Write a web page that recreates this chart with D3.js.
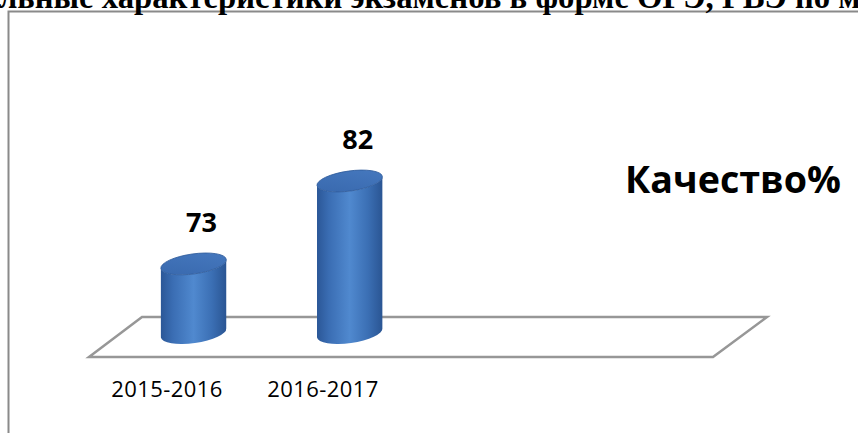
<!DOCTYPE html>
<html><head><meta charset="utf-8">
<script src="https://cdn.jsdelivr.net/npm/d3@7"></script>
<style>html,body{margin:0;padding:0;background:#fff;overflow:hidden}</style>
</head><body>
<svg id="chart" width="858" height="433"></svg>
<script>
const titleText = "льные характеристики экзаменов в форме ОГЭ, ГВЭ  по м";
const seriesName = "Качество%";
const categories = ["2015-2016", "2016-2017", "", ""];
const values = [73, 82, null, null];

(function () {
const W = 858, H = 433;
const svg = d3.select("#chart");

const defs = svg.append("defs");
const gBody = defs.append("linearGradient").attr("id","gBody").attr("x1","0").attr("x2","1").attr("y1","0").attr("y2","0");
[["0%","#2b5797"],["18%","#3a6db3"],["50%","#5089cf"],["78%","#3b6fb4"],["100%","#2a5593"]]
  .forEach(s=>gBody.append("stop").attr("offset",s[0]).attr("stop-color",s[1]));
const gTop = defs.append("linearGradient").attr("id","gTop").attr("x1","0").attr("x2","1").attr("y1","1").attr("y2","0");
[["0%","#3868ad"],["100%","#4679bf"]].forEach(s=>gTop.append("stop").attr("offset",s[0]).attr("stop-color",s[1]));

// frame
svg.append("path").attr("d", d3.line()([[8.5, H],[8.5,11.5],[W,11.5]]))
  .attr("fill","none").attr("stroke","#8a8a8a").attr("stroke-width",2);

// title (cut off by the page top, as in the source)
const t = svg.append("text").text(titleText)
  .attr("x", -1).attr("y", 8)
  .attr("font-family","'Liberation Serif', 'Times New Roman', serif")
  .attr("font-weight","bold").attr("font-size",24).attr("fill","#000");
const tl = t.node().getComputedTextLength();
t.attr("font-size", 24 * 862 / tl);

// floor geometry (3D depth: front / middle / back)
const idx = d3.range(categories.length);
const frontX = d3.scaleBand().domain(idx).range([89, 713]);
const backX = d3.scaleBand().domain(idx).range([142, 767]);
const midX = d3.scaleBand().domain(idx).range([115.5, 740]);
const floorY = {back: 317, front: 357};

svg.append("path")
  .attr("d", d3.line()([[backX.range()[0], floorY.back],[backX.range()[1], floorY.back],
                        [frontX.range()[1], floorY.front],[frontX.range()[0], floorY.front]]) + "Z")
  .attr("fill","#fff").attr("stroke","#979797").attr("stroke-width",2.5).attr("stroke-linejoin","miter");

// value scale
const y = d3.scaleLinear().domain([65.5, 82]).range([333, 181]);

const rx = 33, ry = 10, rot = -8;
const rad = rot * Math.PI / 180;
const dx = rx * Math.cos(rad), dy = rx * Math.sin(rad);

const bars = svg.append("g");
values.forEach((v, i) => {
  if (v == null) return;
  const cx = midX(i) + midX.bandwidth() / 2;
  const yt = y(v), yb = y.range()[0];
  const g = bars.append("g");
  const bodyD = `M${cx-dx},${yt-dy} L${cx-dx},${yb-dy} A${rx},${ry} ${rot} 0 0 ${cx+dx},${yb+dy} L${cx+dx},${yt+dy} A${rx},${ry} ${rot} 0 1 ${cx-dx},${yt-dy} Z`;
  g.append("path").attr("d", bodyD).attr("fill","url(#gBody)");
  g.append("ellipse").attr("cx",cx).attr("cy",yt).attr("rx",rx).attr("ry",ry)
    .attr("transform",`rotate(${rot},${cx},${yt})`)
    .attr("fill","url(#gTop)").attr("stroke","#2f5c9c").attr("stroke-width",0.8);
  svg.append("text").text(v)
    .attr("x", cx + 8).attr("y", yt - 32)
    .attr("text-anchor","middle")
    .attr("font-family","'Open Sans', Lato, sans-serif").attr("font-weight","bold")
    .attr("font-size",27).attr("fill","#000");
});

// category labels along front edge
svg.append("g").selectAll("text").data(categories).join("text")
  .text(d => d)
  .attr("x", (d, i) => frontX(i) + frontX.bandwidth() / 2)
  .attr("y", 397)
  .attr("text-anchor","middle")
  .attr("font-family","'Open Sans', sans-serif").attr("font-size",22)
  .attr("letter-spacing",0.4).attr("fill","#000");

// series name (legend-like)
const s = svg.append("text").text(seriesName)
  .attr("x", 625).attr("y", 193)
  .attr("font-family","'Open Sans', sans-serif").attr("font-weight","bold")
  .attr("font-size",40).attr("fill","#000");
const sl = s.node().getComputedTextLength();
s.attr("font-size", Math.min(40, 40 * 216 / sl));
})();
</script>
</body></html>
